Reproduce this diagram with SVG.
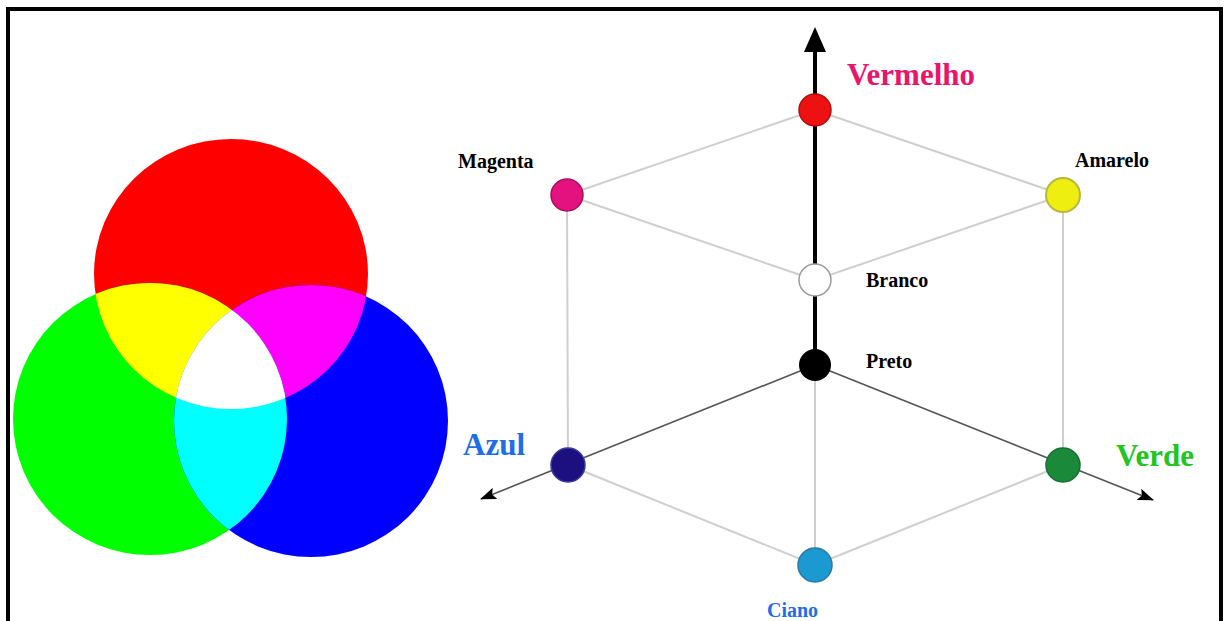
<svg xmlns="http://www.w3.org/2000/svg" width="1224" height="621" viewBox="0 0 1224 621">
<style>
.lbl{font-family:"Liberation Serif","Times New Roman",serif;font-weight:bold}
.sm{font-size:20px}
.big{font-size:31px}
.edge{stroke:#cfcfcf;stroke-width:2;fill:none}
.axis{stroke:#555;stroke-width:1.6;fill:none}
</style>
<defs>
<marker id="ah" viewBox="0 0 16 12" refX="15" refY="6" markerWidth="16" markerHeight="12" orient="auto" markerUnits="userSpaceOnUse">
<path d="M0,0 L16,6 L0,12 L3,6 Z" fill="#000"/>
</marker>
<clipPath id="cR"><ellipse cx="231" cy="274" rx="137" ry="135"/></clipPath>
<clipPath id="cG"><ellipse cx="150" cy="419" rx="137" ry="136"/></clipPath>
<clipPath id="cB"><ellipse cx="311" cy="421" rx="137" ry="136"/></clipPath>
</defs>
<rect x="0" y="0" width="1224" height="621" fill="#fff"/>
<path d="M8,640 V9 H1221 V640" fill="none" stroke="#000" stroke-width="4"/>

<g id="venn">
<ellipse cx="231" cy="274" rx="137" ry="135" fill="#ff0000"/>
<ellipse cx="150" cy="419" rx="137" ry="136" fill="#00ff00"/>
<ellipse cx="311" cy="421" rx="137" ry="136" fill="#0000ff"/>
<ellipse cx="150" cy="419" rx="137" ry="136" fill="#ffff00" clip-path="url(#cR)"/>
<ellipse cx="311" cy="421" rx="137" ry="136" fill="#ff00ff" clip-path="url(#cR)"/>
<ellipse cx="311" cy="421" rx="137" ry="136" fill="#00ffff" clip-path="url(#cG)"/>
<g clip-path="url(#cB)"><ellipse cx="150" cy="419" rx="137" ry="136" fill="#ffffff" clip-path="url(#cR)"/></g>
</g>

<g id="connectors">
<line class="edge" x1="815" y1="110" x2="567" y2="195"/>
<line class="edge" x1="815" y1="110" x2="1063" y2="195"/>
<line class="edge" x1="567" y1="195" x2="815" y2="280"/>
<line class="edge" x1="1063" y1="195" x2="815" y2="280"/>
<line class="edge" x1="567" y1="195" x2="568" y2="465"/>
<line class="edge" x1="1063" y1="195" x2="1063" y2="465"/>
<line class="edge" x1="568" y1="465" x2="815" y2="565"/>
<line class="edge" x1="1063" y1="465" x2="815" y2="565"/>
<line class="edge" x1="815" y1="365" x2="815" y2="565"/>
<line class="axis" x1="815" y1="365" x2="481" y2="499" marker-end="url(#ah)"/>
<line class="axis" x1="815" y1="365" x2="1153" y2="500" marker-end="url(#ah)"/>
<line x1="815" y1="365" x2="815" y2="48" stroke="#000" stroke-width="4"/>
<path d="M815,27 L826,52 L804,52 Z" fill="#000"/>
</g>

<g id="n-vermelho">
<circle cx="815" cy="110" r="16" fill="#ee1111" stroke="#b01010" stroke-width="1.5"/>
<text class="lbl big" x="847" y="85" fill="#e8156c">Vermelho</text>
</g>
<g id="n-magenta">
<circle cx="567" cy="195" r="16" fill="#e3127f" stroke="#a5105e" stroke-width="1.5"/>
<text class="lbl sm" x="458" y="168" fill="#000">Magenta</text>
</g>
<g id="n-amarelo">
<circle cx="1063" cy="195" r="17" fill="#eeee10" stroke="#b8b840" stroke-width="2"/>
<text class="lbl sm" x="1075" y="167" fill="#000">Amarelo</text>
</g>
<g id="n-branco">
<circle cx="815" cy="280" r="16" fill="#ffffff" stroke="#9a9a9a" stroke-width="1.5"/>
<text class="lbl sm" x="866" y="287" fill="#000">Branco</text>
</g>
<g id="n-preto">
<circle cx="815" cy="365" r="16" fill="#000000"/>
<text class="lbl sm" x="866" y="368" fill="#000">Preto</text>
</g>
<g id="n-azul">
<circle cx="568" cy="465" r="17" fill="#1c1080" stroke="#3a3a9a" stroke-width="1.5"/>
<text class="lbl big" x="463" y="455" fill="#1e6ee6">Azul</text>
</g>
<g id="n-verde">
<circle cx="1063" cy="465" r="17" fill="#1a8a3a" stroke="#157030" stroke-width="1.5"/>
<text class="lbl big" x="1116" y="466" fill="#22c422">Verde</text>
</g>
<g id="n-ciano">
<circle cx="815" cy="565" r="17" fill="#1b9ad2" stroke="#2a7aa5" stroke-width="1.5"/>
<text class="lbl sm" x="767" y="617" fill="#1e6ee6">Ciano</text>
</g>
</svg>
